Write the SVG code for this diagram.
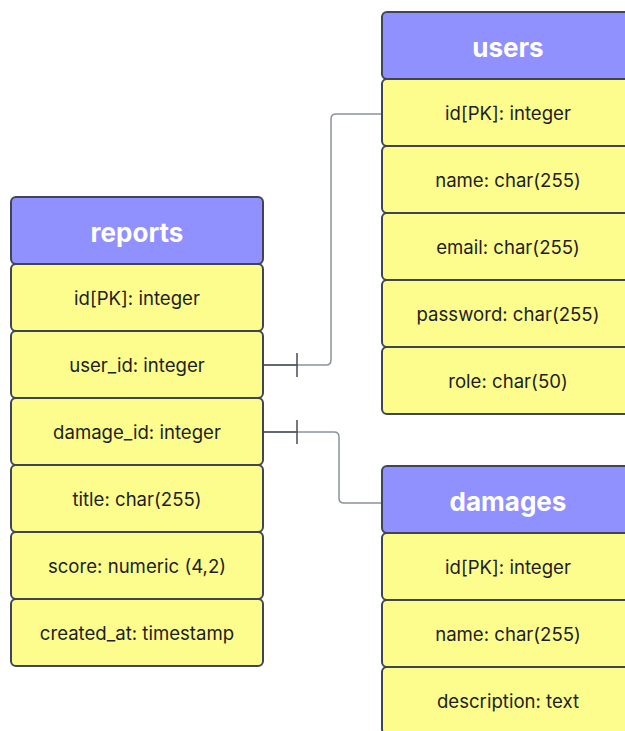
<svg xmlns="http://www.w3.org/2000/svg" width="625" height="731" viewBox="0 0 625 731">
  <style>
    .hdr { fill: #9090fe; stroke: #3f4556; stroke-width: 2; }
    .fld { fill: #fdfd8e; stroke: #3f4556; stroke-width: 2; }
    .ht { font-family: Inter, "Liberation Sans", sans-serif; font-size: 26px; font-weight: 700; fill: #ffffff; text-anchor: middle; dominant-baseline: central; }
    .ft { font-family: Inter, "Liberation Sans", sans-serif; font-size: 18.6px; fill: #1e1e24; text-anchor: middle; dominant-baseline: central; }
    .link { fill: none; stroke: #8c919b; stroke-width: 1.5; }
    .stub { fill: none; stroke: #4a5060; stroke-width: 1.5; }
    .tick { stroke: #454b5a; stroke-width: 1.5; }
  </style>

  <!-- relationships -->
  <g id="connectors">
    <path class="link" d="M264 365 H326 Q331 365 331 360 V119 Q331 114 336 114 H382"/>
    <line class="stub" x1="264" y1="365" x2="297" y2="365"/>
    <line class="tick" x1="297" y1="353" x2="297" y2="377"/>

    <path class="link" d="M264 432 H334 Q339 432 339 437 V498 Q339 503 344 503 H382"/>
    <line class="stub" x1="264" y1="432" x2="297" y2="432"/>
    <line class="tick" x1="297" y1="420" x2="297" y2="444"/>
  </g>

  <!-- reports table -->
  <g id="reports">
    <rect class="hdr" x="11" y="197" width="252" height="67" rx="5"/>
    <text class="ht" x="137" y="232">reports</text>
    <rect class="fld" x="11" y="264" width="252" height="67" rx="5"/>
    <text class="ft" x="137" y="298">id[PK]: integer</text>
    <rect class="fld" x="11" y="331" width="252" height="67" rx="5"/>
    <text class="ft" x="137" y="365">user_id: integer</text>
    <rect class="fld" x="11" y="398" width="252" height="67" rx="5"/>
    <text class="ft" x="137" y="432">damage_id: integer</text>
    <rect class="fld" x="11" y="465" width="252" height="67" rx="5"/>
    <text class="ft" x="137" y="499">title: char(255)</text>
    <rect class="fld" x="11" y="532" width="252" height="67" rx="5"/>
    <text class="ft" x="137" y="566">score: numeric (4,2)</text>
    <rect class="fld" x="11" y="599" width="252" height="67" rx="5"/>
    <text class="ft" x="137" y="633">created_at: timestamp</text>
  </g>

  <!-- users table -->
  <g id="users">
    <rect class="hdr" x="382" y="12" width="252" height="67" rx="5"/>
    <text class="ht" x="508" y="47">users</text>
    <rect class="fld" x="382" y="79" width="252" height="67" rx="5"/>
    <text class="ft" x="508" y="113">id[PK]: integer</text>
    <rect class="fld" x="382" y="146" width="252" height="67" rx="5"/>
    <text class="ft" x="508" y="180">name: char(255)</text>
    <rect class="fld" x="382" y="213" width="252" height="67" rx="5"/>
    <text class="ft" x="508" y="247">email: char(255)</text>
    <rect class="fld" x="382" y="280" width="252" height="67" rx="5"/>
    <text class="ft" x="508" y="314">password: char(255)</text>
    <rect class="fld" x="382" y="347" width="252" height="67" rx="5"/>
    <text class="ft" x="508" y="381">role: char(50)</text>
  </g>

  <!-- damages table -->
  <g id="damages">
    <rect class="hdr" x="382" y="466" width="252" height="67" rx="5"/>
    <text class="ht" x="508" y="501">damages</text>
    <rect class="fld" x="382" y="533" width="252" height="67" rx="5"/>
    <text class="ft" x="508" y="567">id[PK]: integer</text>
    <rect class="fld" x="382" y="600" width="252" height="67" rx="5"/>
    <text class="ft" x="508" y="634">name: char(255)</text>
    <rect class="fld" x="382" y="667" width="252" height="67" rx="5"/>
    <text class="ft" x="508" y="701">description: text</text>
  </g>
</svg>
